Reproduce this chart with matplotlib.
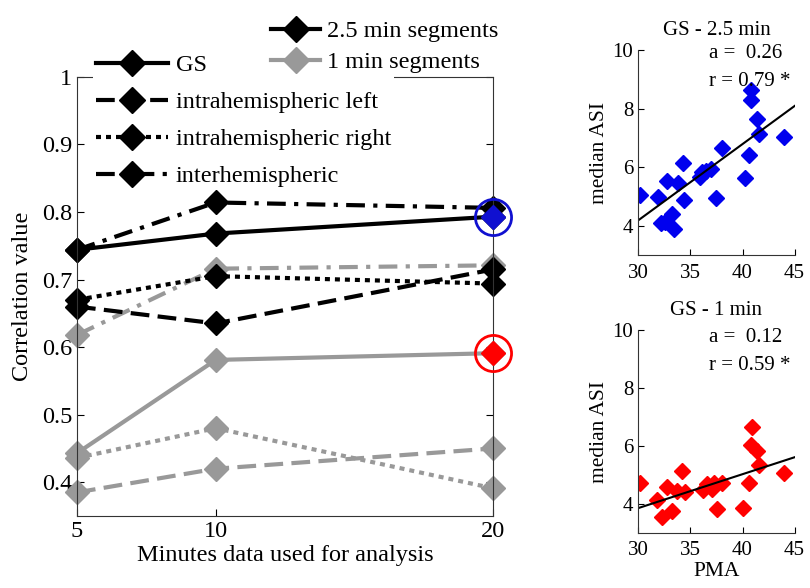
import numpy as np
import matplotlib
matplotlib.use("Agg")
import matplotlib.pyplot as plt
from matplotlib.lines import Line2D

plt.rcParams["font.family"] = ["Liberation Serif", "DejaVu Serif"]

# ---------- data ----------
minutes = [5, 10, 20]
measures = ["GS", "intrahemispheric left", "intrahemispheric right", "interhemispheric"]

# 2.5 min segments
gs_25 = [0.744, 0.768, 0.793]
left_25 = [0.660, 0.635, 0.715]
right_25 = [0.670, 0.705, 0.694]
inter_25 = [0.744, 0.814, 0.806]

# 1 min segments
gs_1 = [0.443, 0.581, 0.591]
left_1 = [0.385, 0.420, 0.450]
right_1 = [0.436, 0.480, 0.391]
inter_1 = [0.618, 0.716, 0.721]

ytick_vals = [0.4, 0.5, 0.6, 0.7, 0.8, 0.9, 1.0]
ytick_labels = ["0.4", "0.5", "0.6", "0.7", "0.8", "0.9", "1"]

# scatter: GS - 2.5 min
pma_25 = [30.2, 31.9, 32.2, 32.6, 32.8, 33.2, 33.4, 33.8, 34.3, 34.4, 35.9, 36.1,
          36.5, 37.0, 37.5, 38.0, 40.2, 40.6, 40.8, 40.8, 41.4, 41.6, 44.0]
asi_25 = [5.05, 4.97, 4.11, 4.14, 5.54, 4.40, 3.89, 5.45, 6.14, 4.88, 5.66, 5.83,
          5.86, 5.94, 4.95, 6.66, 5.63, 6.43, 8.63, 8.29, 7.66, 7.12, 7.03]
slope_25, icpt_25 = 0.26, -3.61
r_25 = 0.79

# scatter: GS - 1 min
pma_1 = [30.2, 31.8, 32.3, 32.8, 33.2, 33.7, 34.2, 34.5, 36.2, 36.6, 37.1, 37.3,
         37.6, 38.0, 40.0, 40.6, 40.8, 40.9, 41.4, 41.6, 44.0]
asi_1 = [4.72, 4.14, 3.56, 4.58, 3.77, 4.46, 5.15, 4.41, 4.49, 4.69, 4.52, 4.74,
         3.83, 4.74, 3.85, 4.72, 6.04, 6.65, 5.82, 5.33, 5.06]
slope_1, icpt_1 = 0.117, 0.35
r_1 = 0.59

# ---------- styles ----------
GRAY = "#999999"
styles = ["-", (0, (4.5, 2)), (0, (1.2, 1.2)), (0, (4.5, 2, 1, 2))]

fig = plt.figure(figsize=(8.1, 5.88), dpi=100)

ax = fig.add_axes([0.095, 0.1224, 0.514, 0.747])
series_25 = [gs_25, left_25, right_25, inter_25]
series_1 = [gs_1, left_1, right_1, inter_1]
for vals, ls in zip(series_1, styles):
    ax.plot(minutes, vals, color=GRAY, lw=3, linestyle=ls, marker="D", ms=12,
            markeredgecolor=GRAY, markerfacecolor=GRAY, clip_on=False)
for vals, ls in zip(series_25, styles):
    ax.plot(minutes, vals, color="black", lw=3, linestyle=ls, marker="D", ms=12,
            markeredgecolor="black", markerfacecolor="black", clip_on=False)

# highlighted GS points at 20 min
ax.plot(minutes[-1], gs_25[-1], marker="D", ms=12, color="#1010d0", clip_on=False, zorder=5)
ax.plot(minutes[-1], gs_25[-1], marker="o", ms=26, mfc="none", mec="#1010d0", mew=2,
        clip_on=False, zorder=5)
ax.plot(minutes[-1], gs_1[-1], marker="D", ms=12, color="#ff0000", clip_on=False, zorder=5)
ax.plot(minutes[-1], gs_1[-1], marker="o", ms=26, mfc="none", mec="#ff0000", mew=2,
        clip_on=False, zorder=5)

ax.set_xlim(5, 20)
ax.set_ylim(0.35, 1.0)
ax.set_xticks(minutes)
ax.set_xticklabels([str(m) for m in minutes])
ax.set_yticks(ytick_vals)
ax.set_yticklabels(ytick_labels)
ax.tick_params(direction="in", right=True, labelsize=17.5, length=5, width=0.8)
for s in ax.spines.values():
    s.set_linewidth(0.8)
    s.set_color("#333333")
ax.set_xlabel("Minutes data used for analysis", fontsize=17.5, labelpad=2)
ax.set_ylabel("Correlation value", fontsize=17.5, labelpad=6)

# legend: line styles
h1 = [Line2D([], [], color="black", lw=3, linestyle=ls, marker="D", ms=13) for ls in styles]
fig.legend(h1, measures, loc="upper left", bbox_to_anchor=(0.115, 0.912),
           fontsize=17.5, handlelength=3.0, handletextpad=0.3, labelspacing=0.62,
           frameon=True, facecolor="white", edgecolor="none", framealpha=1,
           borderpad=0.1, borderaxespad=0)

# legend: segment length
h2 = [Line2D([], [], color="black", lw=3, marker="D", ms=13),
      Line2D([], [], color=GRAY, lw=3, marker="D", ms=13)]
fig.legend(h2, ["2.5 min segments", "1 min segments"], loc="upper left",
           bbox_to_anchor=(0.332, 0.97), fontsize=17.5, handlelength=2.0,
           handletextpad=0.3, labelspacing=0.38, frameon=True, facecolor="white",
           edgecolor="none", framealpha=1, borderpad=0.1, borderaxespad=0)


def scatter_panel(rect, x, y, slope, icpt, r, color, title, ay, ry, xlabel=None):
    a = fig.add_axes(rect)
    a.plot(x, y, linestyle="none", marker="D", ms=8, color=color)
    xs = np.array([30, 45])
    a.plot(xs, slope * xs + icpt, color="black", lw=1.5)
    a.set_xlim(30, 45)
    a.set_ylim(3, 10)
    a.set_xticks([30, 35, 40, 45])
    a.set_yticks([4, 6, 8, 10])
    a.spines["top"].set_visible(False)
    a.spines["right"].set_visible(False)
    for s in ("left", "bottom"):
        a.spines[s].set_linewidth(0.8)
        a.spines[s].set_color("#333333")
    a.tick_params(direction="in", labelsize=15, length=4, width=0.8)
    a.tick_params(axis="x", pad=6)
    a.set_title(title, fontsize=15, pad=11)
    a.set_ylabel("median ASI", fontsize=15.5, labelpad=3)
    if xlabel:
        a.set_xlabel(xlabel, fontsize=15.5, labelpad=1)
    a.text(0.45, ay, "a =  %.2f" % slope, transform=a.transAxes, fontsize=15,
           ha="left", va="center")
    a.text(0.45, ry, "r = %.2f *" % r, transform=a.transAxes, fontsize=15,
           ha="left", va="center", clip_on=False)
    return a


scatter_panel([0.788, 0.566, 0.193, 0.349], pma_25, asi_25, slope_25, icpt_25, r_25,
              "#0000ee", "GS - 2.5 min", 0.985, 0.845)
scatter_panel([0.788, 0.0935, 0.193, 0.345], pma_1, asi_1, slope_1, icpt_1, r_1,
              "#ff0000", "GS - 1 min", 0.966, 0.828, xlabel="PMA")

fig.savefig("out.png", dpi=100)
